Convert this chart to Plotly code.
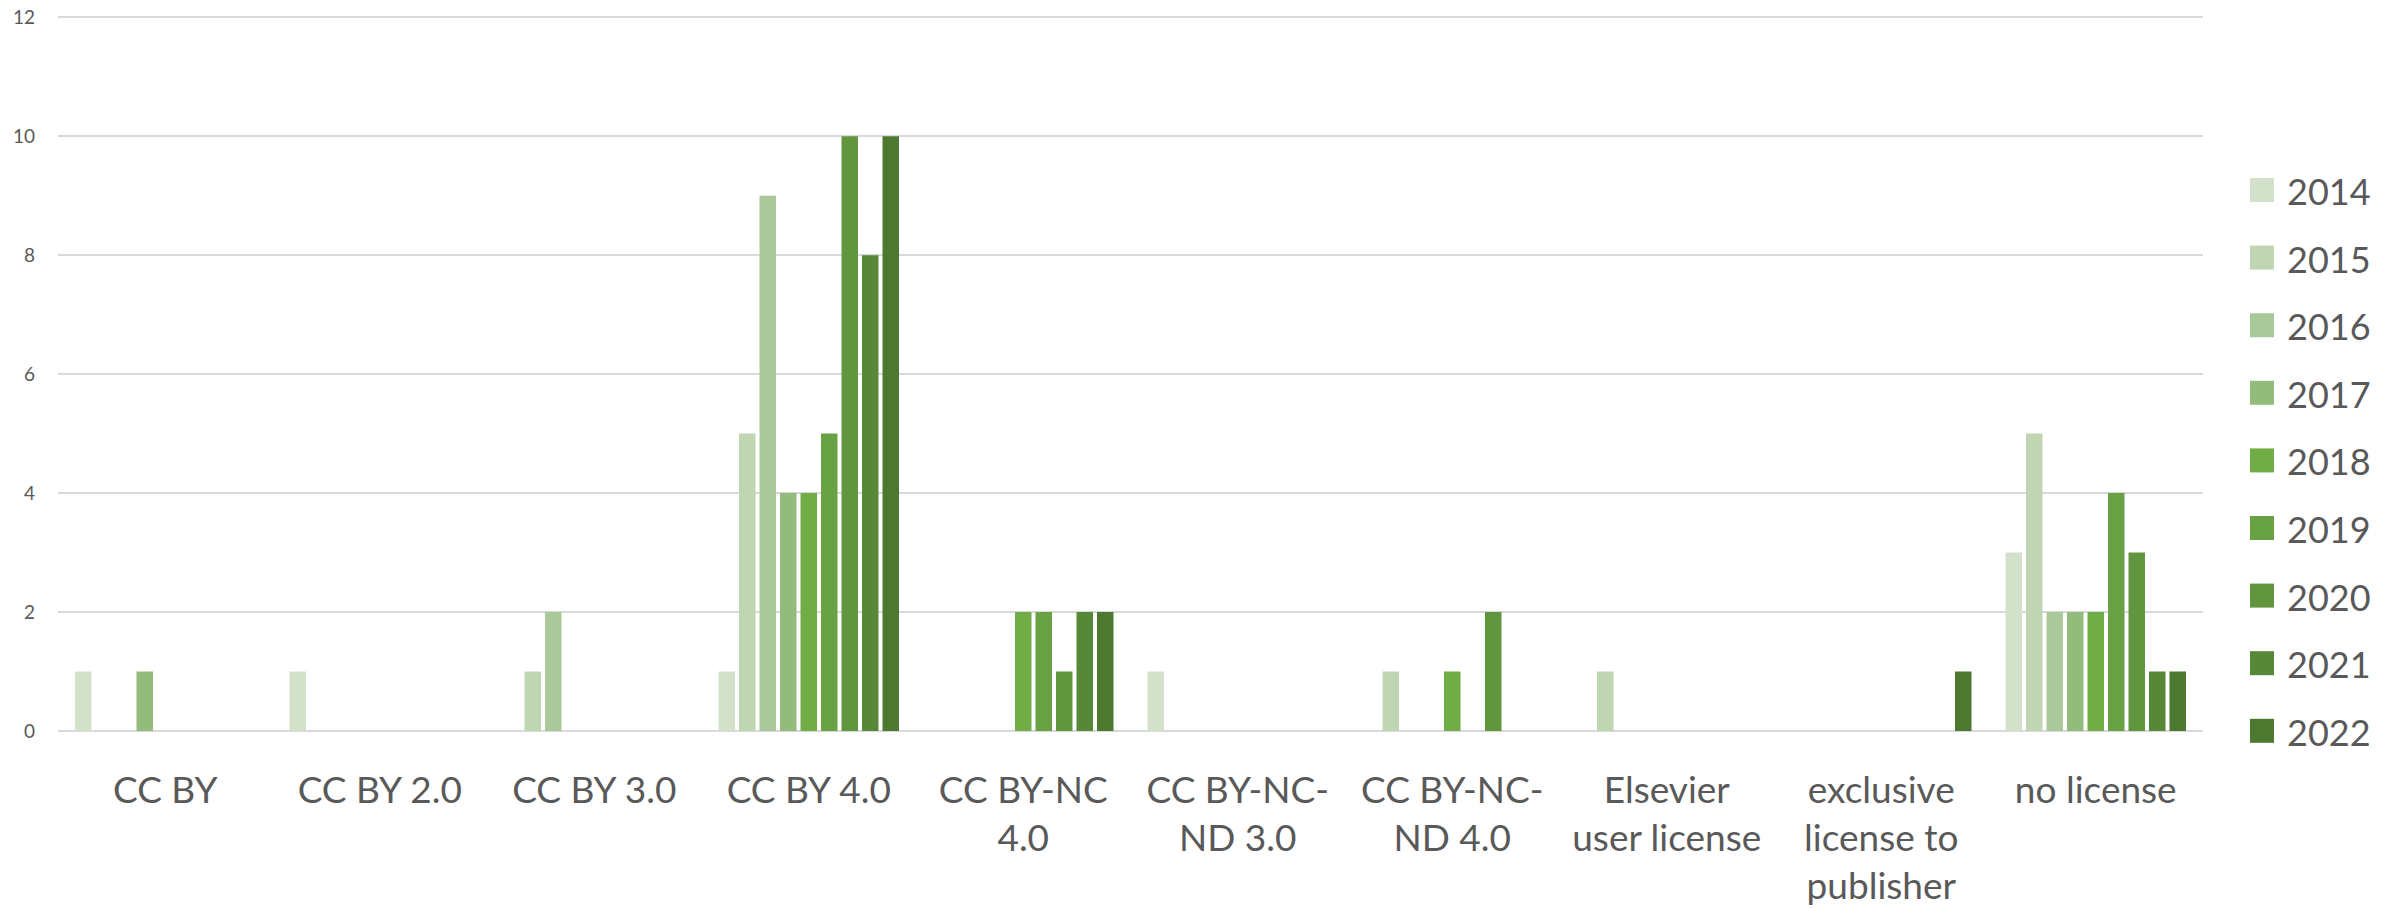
import plotly.graph_objects as go

# ---- data ----
categories = ["CC BY", "CC BY 2.0", "CC BY 3.0", "CC BY 4.0", "CC BY-NC 4.0",
              "CC BY-NC-ND 3.0", "CC BY-NC-ND 4.0", "Elsevier user license",
              "exclusive license to publisher", "no license"]
tick_labels = ["CC BY", "CC BY 2.0", "CC BY 3.0", "CC BY 4.0", "CC BY-NC<br>4.0",
               "CC BY-NC-<br>ND 3.0", "CC BY-NC-<br>ND 4.0", "Elsevier<br>user license",
               "exclusive<br>license to<br>publisher", "no license"]
years = ["2014", "2015", "2016", "2017", "2018", "2019", "2020", "2021", "2022"]

v2014 = [1, 1, 0, 1, 0, 1, 0, 0, 0, 3]
v2015 = [0, 0, 1, 5, 0, 0, 1, 1, 0, 5]
v2016 = [0, 0, 2, 9, 0, 0, 0, 0, 0, 2]
v2017 = [1, 0, 0, 4, 0, 0, 0, 0, 0, 2]
v2018 = [0, 0, 0, 4, 2, 0, 1, 0, 0, 2]
v2019 = [0, 0, 0, 5, 2, 0, 0, 0, 0, 4]
v2020 = [0, 0, 0, 10, 1, 0, 2, 0, 0, 3]
v2021 = [0, 0, 0, 8, 2, 0, 0, 0, 0, 1]
v2022 = [0, 0, 0, 10, 2, 0, 0, 0, 1, 1]
series = [v2014, v2015, v2016, v2017, v2018, v2019, v2020, v2021, v2022]

colors = ["#D3E1CB", "#C0D6B2", "#A9C99A", "#93BB7B", "#70AD47",
          "#69A244", "#62963E", "#578838", "#4C7830"]

FONT = "Lato, 'Open Sans', sans-serif"
TEXT = "#595959"

fig = go.Figure()
for yr, vals, col in zip(years, series, colors):
    fig.add_trace(go.Bar(name=yr, x=categories, y=vals, marker_color=col,
                         marker_line_width=0, showlegend=False))

# page geometry (px); body margin is removed in the page, so page == figure coords
W, H = 2399, 909
PX0, PX1 = 58, 2203     # plot area left/right
PY0, PY1 = 16, 731      # plot area top/bottom
YMAX = 12.02            # a hair above 12 so the top gridline is drawn
ml, mt = PX0, PY0
mr, mb = W - PX1, H - PY1

def px_x(px):
    return (px - PX0) / (PX1 - PX0)

def px_y(py):
    return (PY1 - py) / (PY1 - PY0)

shapes = []
annotations = []
for i, (yr, col) in enumerate(zip(years, colors)):
    cy = 190 + i * 67.6
    shapes.append(dict(type="rect", xref="paper", yref="paper",
                       x0=px_x(2250), x1=px_x(2274), y0=px_y(cy + 12), y1=px_y(cy - 12),
                       fillcolor=col, line_width=0))
    annotations.append(dict(xref="paper", yref="paper", x=px_x(2285), y=px_y(cy + 1),
                            xanchor="left", yanchor="middle", text=yr, showarrow=False,
                            font=dict(family=FONT, size=36, color=TEXT)))

fig.update_layout(
    width=W, height=H, autosize=False,
    margin=dict(l=ml, r=mr, t=mt, b=mb, pad=0),
    paper_bgcolor="white", plot_bgcolor="white",
    barmode="group", bargap=0.14, bargroupgap=0.195,
    shapes=shapes, annotations=annotations,
    font=dict(family=FONT, color=TEXT),
)
fig.update_xaxes(tickmode="array", tickvals=categories, ticktext=tick_labels,
                 tickfont=dict(family=FONT, size=37, color=TEXT), automargin=False,
                 showgrid=False, showline=False, ticks="", ticklabelstandoff=34)
fig.update_yaxes(range=[0, YMAX], tickmode="linear", tick0=0, dtick=2,
                 showgrid=True, gridcolor="#D9D9D9", gridwidth=1.5,
                 zeroline=True, zerolinecolor="#D9D9D9", zerolinewidth=1.5, automargin=False,
                 tickfont=dict(family=FONT, size=19, color=TEXT), ticklabelstandoff=22,
                 ticklabeloverflow="allow", showline=False, ticks="")

fig.write_html("out.html", config={"displayModeBar": False},
               post_script="document.body.style.margin='0';")
